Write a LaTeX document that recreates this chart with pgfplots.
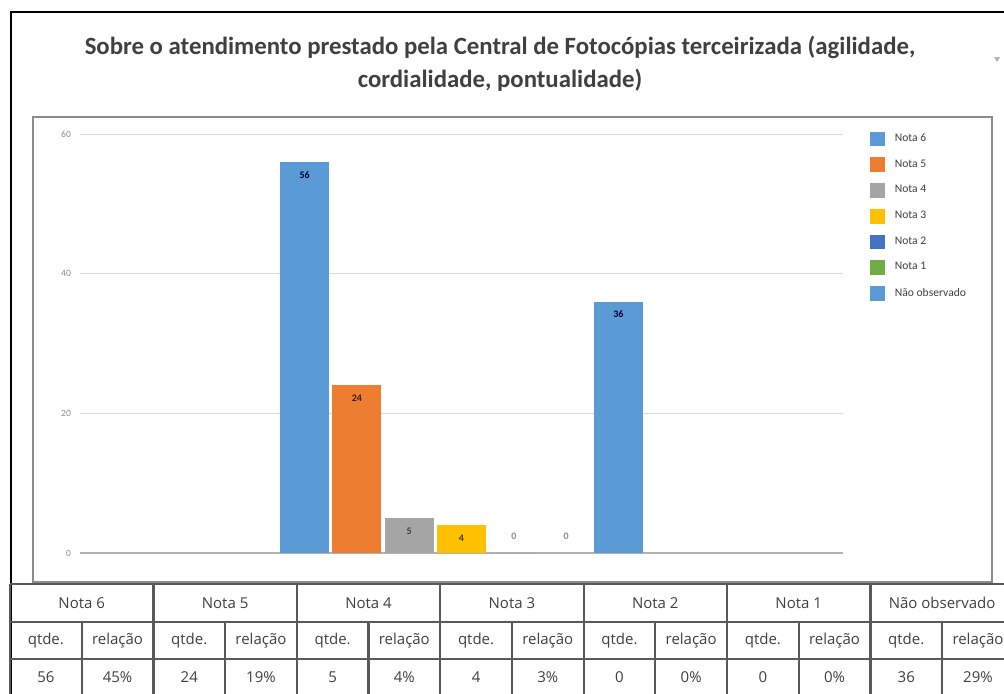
\documentclass[border=0pt]{standalone}
\usepackage{fontspec}
\setmainfont{Carlito}
\newfontfamily\tabfont{Open Sans}
\usepackage{pgfplots}
\pgfplotsset{compat=1.18}
\definecolor{c6}{HTML}{5B9BD5}
\definecolor{c5}{HTML}{ED7D31}
\definecolor{c4}{HTML}{A5A5A5}
\definecolor{c3}{HTML}{FFC000}
\definecolor{c2}{HTML}{4472C4}
\definecolor{c1}{HTML}{70AD47}
\definecolor{cn}{HTML}{5B9BD5}
\definecolor{gridc}{HTML}{D9D9D9}
\definecolor{txt}{HTML}{404040}
\pgfplotsset{
 sq legend/.style={legend image code/.code={\fill[##1,draw=none] (0pt,-3.7pt) rectangle (7.4pt,3.7pt);}},
 lab in/.style={nodes near coords, every node near coord/.append style={anchor=north, yshift=-1.2pt, text=#1}},
 lab zero/.style={nodes near coords, every node near coord/.append style={anchor=south, yshift=3.2pt, text=#1}},
}
\begin{document}
\begin{tikzpicture}[x=0.5pt,y=0.5pt]
\useasboundingbox (0,0) rectangle (1004,693);
\clip (0,0) rectangle (1004,693);
\fill[white] (0,0) rectangle (1004,693);
% outer frame
\draw[line width=1pt, black] (11,-10) -- (11,681) -- (1020,681);
% inner frame
\draw[line width=0.7pt, black!45] (33,111) rectangle (992,576);
% small arrow
\fill[gray!60] (994,636) -- (1000,636) -- (997,631) -- cycle;
% title
\node[align=center, text=txt, font=\fontsize{12.4}{16.5}\selectfont\bfseries] at (500,629.5)
 {Sobre o atendimento prestado pela Central de Fotocópias terceirizada (agilidade,\\cordialidade, pontualidade)};
\begin{axis}[
 at={(40pt,70pt)}, anchor=south west,
 scale only axis, width=381.5pt, height=209.5pt,
 xmin=-1, xmax=1, ymin=0, ymax=60,
 xtick=\empty, ytick={20,40,60},
 extra y ticks={0},
 extra y tick style={grid style={line width=1.2pt, black!30}},
 ymajorgrids, grid style={line width=0.5pt, gridc},
 axis line style={draw=none}, major tick length=0pt,
 /pgf/number format/assume math mode=true,
 tick label style={font=\fontsize{4.8}{5}\selectfont, text=black!45},
 yticklabel style={xshift=-1pt},
 ybar=1.65pt, bar width=24.5pt,
 every node near coord/.append style={font=\fontsize{5}{5}\selectfont\bfseries},
 legend style={at={(axis description cs:1.027,1.021)}, anchor=north west, draw=none, fill=none,
   font=\fontsize{5.8}{6}\selectfont, text=txt, row sep=3.6pt, cells={anchor=west},
   /tikz/every odd column/.append style={column sep=3pt}},
 legend cell align=left,
 clip=false,
]
\addplot[fill=c6, draw=none, sq legend, lab in={black!80!blue}] coordinates {(0,56)};
\addlegendentry{Nota 6}
\addplot[fill=c5, draw=none, sq legend, lab in={black!75!c5}] coordinates {(0,24)};
\addlegendentry{Nota 5}
\addplot[fill=c4, draw=none, sq legend, lab in={black!75}] coordinates {(0,5)};
\addlegendentry{Nota 4}
\addplot[fill=c3, draw=none, sq legend, lab in={black!70!c3}] coordinates {(0,4)};
\addlegendentry{Nota 3}
\addplot[fill=c2, draw=none, sq legend, lab zero={black!45}] coordinates {(0,0)};
\addlegendentry{Nota 2}
\addplot[fill=c1, draw=none, sq legend, lab zero={black!45}] coordinates {(0,0)};
\addlegendentry{Nota 1}
\addplot[fill=cn, draw=none, sq legend, lab in={black!80!blue}] coordinates {(0,36)};
\addlegendentry{Não observado}
\end{axis}
% table
\begin{scope}[line width=1.1pt, draw=black!65]
\foreach \y in {109,71,34} \draw (10,\y) -- (1020,\y);
\foreach \k in {0,2,...,14} \draw (10+71.7*\k,109.5) -- (10+71.7*\k,-10);
\foreach \k in {1,3,...,13} \draw (10+71.7*\k,71) -- (10+71.7*\k,-10);
\end{scope}
\begin{scope}[font=\tabfont\fontsize{7.5}{9}\selectfont, text=black!75]
\foreach \n [count=\j from 0] in {Nota 6,Nota 5,Nota 4,Nota 3,Nota 2,Nota 1,Não observado}
  \node at (10+71.7*2*\j+71.7,90) {\n};
\foreach \j in {0,...,6} {
  \node at (10+71.7*2*\j+35.85,52.5) {qtde.};
  \node at (10+71.7*2*\j+107.55,52.5) {relação};
}
\foreach \q/\r [count=\j from 0] in {56/45\%,24/19\%,5/4\%,4/3\%,0/0\%,0/0\%,36/29\%} {
  \node at (10+71.7*2*\j+35.85,15.5) {\q};
  \node at (10+71.7*2*\j+107.55,15.5) {\r};
}
\end{scope}
\end{tikzpicture}
\end{document}
